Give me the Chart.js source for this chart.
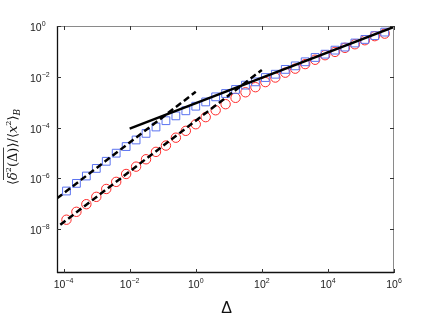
<!DOCTYPE html>
<html>
<head>
<meta charset="utf-8">
<script src="https://cdn.jsdelivr.net/npm/chart.js@4/dist/chart.umd.min.js"></script>
<style>
    html, body { margin: 0; padding: 0; background: #fff; }
    #msd-chart { display: block; }
</style>
</head>
<body>
<canvas id="msd-chart" width="436" height="328"></canvas>
<script>
// lag times Δ (2^-13 ... 2^19)
const deltas = [
    0.00012207, 0.00024414, 0.00048828, 0.00097656, 0.0019531, 0.0039063, 0.0078125,
    0.015625, 0.03125, 0.0625, 0.125, 0.25, 0.5, 1, 2, 4, 8, 16, 32, 64, 128, 256, 512,
    1024, 2048, 4096, 8192, 16384, 32768, 65536, 131072, 262144, 524288,
];
// blue squares
const msdSquares = [
    3.16e-7, 6.31e-7, 1.23e-6, 2.45e-6, 4.68e-6, 9.77e-6, 1.78e-5, 3.24e-5, 5.89e-5,
    1.05e-4, 1.86e-4, 2.88e-4, 4.57e-4, 6.92e-4, 1.02e-3, 1.62e-3, 2.19e-3, 3.16e-3,
    4.68e-3, 6.31e-3, 9.33e-3, 1.26e-2, 1.95e-2, 2.69e-2, 3.89e-2, 5.75e-2, 7.76e-2,
    0.112, 0.148, 0.214, 0.295, 0.417, 0.575,
];
// red circles
const msdCircles = [
    2.34e-8, 4.79e-8, 9.55e-8, 1.86e-7, 3.80e-7, 7.24e-7, 1.48e-6, 2.88e-6, 5.62e-6,
    1.10e-5, 1.95e-5, 3.98e-5, 7.41e-5, 1.35e-4, 2.57e-4, 4.79e-4, 8.32e-4, 1.48e-3,
    2.45e-3, 3.89e-3, 6.17e-3, 9.33e-3, 1.45e-2, 2.09e-2, 3.16e-2, 4.68e-2, 7.08e-2,
    9.55e-2, 0.138, 0.191, 0.275, 0.398, 0.501,
];
// guide lines (end points)
const dashUpperX = [6.31e-5, 1];
const dashUpperY = [1.62e-7, 2.57e-3];
const dashLowerX = [7.94e-5, 100];
const dashLowerY = [1.48e-8, 1.86e-2];
const solidX = [0.01, 1e6];
const solidY = [9.0e-5, 0.92];
// tick labels (exponents of ten)
const xTickExps = [-4, -2, 0, 2, 4, 6];
const yTickExps = [-8, -6, -4, -2, 0];

const toPts = (xs, ys) => xs.map((x, i) => ({ x: x, y: ys[i] }));

const frameAndTicks = {
    id: 'frameAndTicks',
    afterDraw(chart) {
        const c = chart.ctx;
        const a = chart.chartArea;
        const sx = chart.scales.x;
        const sy = chart.scales.y;
        c.save();
        // box: top/right grey, left/bottom black
        c.lineWidth = 1;
        c.strokeStyle = '#8a8a8a';
        c.beginPath();
        c.moveTo(a.left, a.top + 0.5); c.lineTo(a.right, a.top + 0.5);
        c.moveTo(a.right - 0.5, a.top); c.lineTo(a.right - 0.5, a.bottom);
        c.stroke();
        c.strokeStyle = '#111';
        c.lineWidth = 1.3;
        c.beginPath();
        c.moveTo(a.left + 0.5, a.top); c.lineTo(a.left + 0.5, a.bottom);
        c.moveTo(a.left, a.bottom - 0.5); c.lineTo(a.right, a.bottom - 0.5);
        c.stroke();
        // inward ticks
        c.lineWidth = 1;
        c.strokeStyle = '#333';
        c.beginPath();
        xTickExps.forEach(e => {
            const px = Math.round(sx.getPixelForValue(Math.pow(10, e))) + 0.5;
            c.moveTo(px, a.bottom); c.lineTo(px, a.bottom - 4);
            c.moveTo(px, a.top); c.lineTo(px, a.top + 4);
        });
        yTickExps.forEach(e => {
            const py = Math.round(sy.getPixelForValue(Math.pow(10, e))) + 0.5;
            c.moveTo(a.left, py); c.lineTo(a.left + 4, py);
            c.moveTo(a.right, py); c.lineTo(a.right - 4, py);
        });
        c.stroke();
        // tick labels 10^n
        c.fillStyle = '#222';
        c.textBaseline = 'alphabetic';
        const base = '10.5px "Liberation Sans", Arial, sans-serif';
        const sup = '7px "Liberation Sans", Arial, sans-serif';
        const expText = e => (e < 0 ? '\u2212' + (-e) : String(e));
        xTickExps.forEach(e => {
            const px = sx.getPixelForValue(Math.pow(10, e));
            c.font = base;
            const w1 = c.measureText('10').width;
            c.font = sup;
            const w2 = c.measureText(expText(e)).width;
            const left = px - (w1 + w2) / 2;
            c.textAlign = 'left';
            c.font = base;
            c.fillText('10', left, a.bottom + 15);
            c.font = sup;
            c.fillText(expText(e), left + w1, a.bottom + 10);
        });
        yTickExps.forEach(e => {
            const py = sy.getPixelForValue(Math.pow(10, e));
            c.textAlign = 'left';
            c.font = base;
            const w1 = c.measureText('10').width;
            c.fillText('10', 30, py + 5);
            c.font = sup;
            c.fillText(expText(e), 30 + w1, py);
        });
        // x title
        c.fillStyle = '#111';
        c.font = '16px "Liberation Sans", Arial, sans-serif';
        c.textAlign = 'center';
        c.fillText('\u0394', (a.left + a.right) / 2 + 1, a.bottom + 40);
        // y title, drawn piece by piece (rotated)
        const serif = s => s + 'px "DejaVu Serif", "Liberation Serif", serif';
        const pieces = [
            { t: '\u27e8', f: serif(13), dy: 0 },
            { t: '\u03b4', f: 'italic ' + serif(13), dy: 0, ol: true },
            { t: '2', f: serif(8), dy: -6, ol: true },
            { t: '(\u0394)', f: serif(13), dy: 0, ol: true },
            { t: '\u27e9', f: serif(13), dy: 0 },
            { t: '/', f: serif(13), dy: 0 },
            { t: '\u27e8', f: serif(13), dy: 0 },
            { t: 'x', f: 'italic ' + serif(13), dy: 0 },
            { t: '2', f: serif(8), dy: -6 },
            { t: '\u27e9', f: serif(13), dy: 0 },
            { t: 'B', f: 'italic ' + serif(9), dy: 3 },
        ];
        let total = 0;
        pieces.forEach(p => { c.font = p.f; p.w = c.measureText(p.t).width; total += p.w; });
        c.translate(17, 147);
        c.rotate(-Math.PI / 2);
        c.textAlign = 'left';
        let cx = -total / 2;
        let olStart = null, olEnd = null;
        pieces.forEach(p => {
            c.font = p.f;
            c.fillText(p.t, cx, p.dy);
            if (p.ol) {
                if (olStart === null) olStart = cx;
                olEnd = cx + p.w;
            }
            cx += p.w;
        });
        c.lineWidth = 0.8;
        c.strokeStyle = '#111';
        c.beginPath();
        c.moveTo(olStart, -13.5); c.lineTo(olEnd, -13.5);
        c.stroke();
        c.restore();
    }
};

const ctx = document.getElementById('msd-chart').getContext('2d');
const msdChart = new Chart(ctx, {
    type: 'scatter',
    data: {
        datasets: [
            {
                data: toPts(dashUpperX, dashUpperY),
                showLine: true,
                borderColor: '#000',
                borderWidth: 2.5,
                borderDash: [6.5, 3.5],
                pointRadius: 0,
                order: 0,
            },
            {
                data: toPts(dashLowerX, dashLowerY),
                showLine: true,
                borderColor: '#000',
                borderWidth: 2.5,
                borderDash: [6.5, 3.5],
                pointRadius: 0,
                order: 0,
            },
            {
                data: toPts(solidX, solidY),
                showLine: true,
                borderColor: '#000',
                borderWidth: 2.5,
                pointRadius: 0,
                order: 0,
            },
            {
                data: toPts(deltas, msdSquares),
                pointStyle: 'rect',
                pointRadius: 5.5,
                borderColor: '#5a72f0',
                backgroundColor: 'transparent',
                borderWidth: 1,
                order: 1,
            },
            {
                data: toPts(deltas, msdCircles),
                pointStyle: 'circle',
                pointRadius: 4.7,
                borderColor: '#ff2a2a',
                backgroundColor: 'transparent',
                borderWidth: 1,
                order: 1,
            },
        ],
    },
    options: {
        responsive: false,
        animation: false,
        devicePixelRatio: 1,
        layout: {
            padding: { left: 57, right: 42, top: 26, bottom: 55 },
        },
        plugins: {
            legend: { display: false },
            tooltip: { enabled: false },
        },
        scales: {
            x: {
                type: 'logarithmic',
                min: 6.31e-5,
                max: 1e6,
                display: false,
            },
            y: {
                type: 'logarithmic',
                min: 1.86e-10,
                max: 1,
                display: false,
            },
        },
    },
    plugins: [frameAndTicks],
});
</script>
</body>
</html>
